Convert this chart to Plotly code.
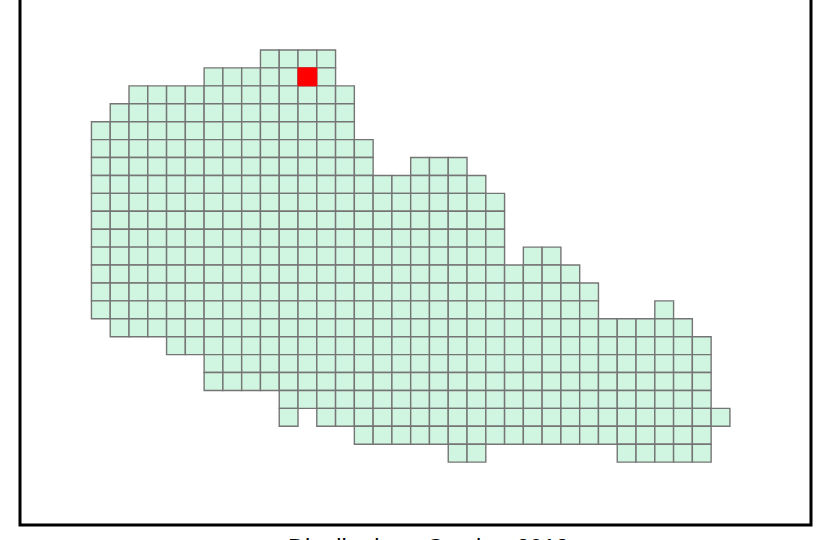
import plotly.graph_objects as go

# Occupied grid squares: row number (0 = top) and the column spans filled in that row
row_numbers = list(range(23))
row_spans = [
    [(9, 12)],
    [(6, 12)],
    [(2, 13)],
    [(1, 13)],
    [(0, 13)],
    [(0, 14)],
    [(0, 14), (17, 19)],
    [(0, 20)],
    [(0, 21)],
    [(0, 21)],
    [(0, 21)],
    [(0, 21), (23, 24)],
    [(0, 25)],
    [(0, 26)],
    [(0, 26), (30, 30)],
    [(1, 31)],
    [(4, 32)],
    [(6, 32)],
    [(6, 32)],
    [(10, 32)],
    [(10, 10), (12, 33)],
    [(14, 32)],
    [(19, 20), (28, 32)],
]
highlight_col = [11]
highlight_row = [1]
caption = "Distribution - October 2013"

cols, rows = [], []
for r, spans in zip(row_numbers, row_spans):
    for a, b in spans:
        for c in range(a, b + 1):
            cols.append(c)
            rows.append(r)

fig = go.Figure()
fig.add_trace(go.Bar(
    x=[c + 0.5 for c in cols], y=[1] * len(cols), base=rows, width=1,
    marker=dict(color="#D0F5E0", line=dict(color="#757575", width=1.4)),
    hoverinfo="skip", showlegend=False,
))
fig.add_trace(go.Bar(
    x=[c + 0.5 for c in highlight_col], y=[1], base=highlight_row, width=1,
    marker=dict(color="#FF0000", line=dict(color="#FF0000", width=1)),
    hoverinfo="skip", showlegend=False,
))

W, H = 826, 540
L, R, B = 19.5, 811, 525
cw, ch = 18.79, 17.92
x0, y0 = 91, 50
axis_style = dict(showgrid=False, zeroline=False, showticklabels=False, ticks="", showline=False)
fig.update_layout(
    width=W, height=H, barmode="overlay",
    margin=dict(l=L, r=W - R, t=0, b=H - B, pad=0),
    paper_bgcolor="white", plot_bgcolor="white",
    xaxis=dict(range=[(L - x0) / cw, (R - x0) / cw], **axis_style),
    yaxis=dict(range=[(B - y0) / ch, (0 - y0) / ch], **axis_style),
    shapes=[dict(type="rect", xref="paper", yref="paper", x0=0, x1=1, y0=0, y1=1.05,
                 line=dict(color="black", width=3), fillcolor="rgba(0,0,0,0)")],
    annotations=[dict(text=caption, xref="paper", yref="paper", x=(428 - L) / (R - L),
                      y=0, yanchor="top", yshift=-7.5, showarrow=False,
                      font=dict(family="Liberation Sans, Arial, sans-serif", size=23.5, color="black"))],
)
fig.write_html("out.html", config={"displayModeBar": False},
               post_script="document.body.style.margin='0';document.body.style.overflow='hidden';")
